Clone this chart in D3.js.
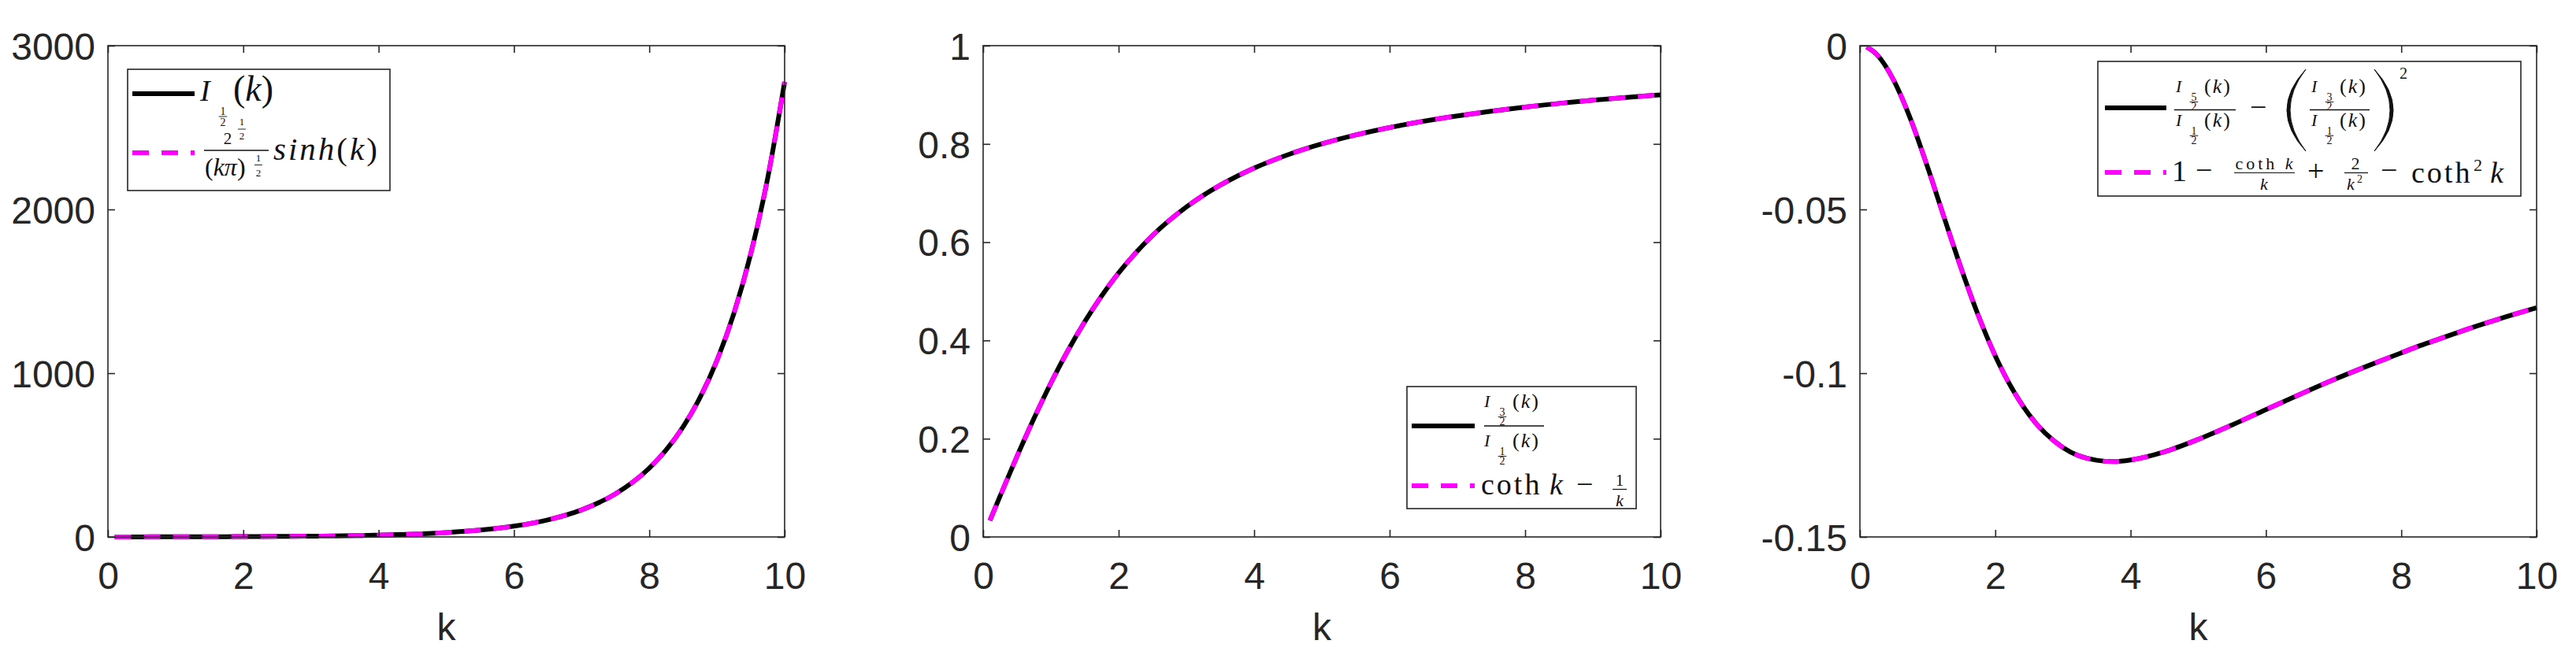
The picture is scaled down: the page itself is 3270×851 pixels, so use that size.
<!DOCTYPE html>
<html><head><meta charset="utf-8">
<script src="https://cdn.jsdelivr.net/npm/d3@7"></script>
<style>html,body{margin:0;padding:0;background:#fff;overflow:hidden}</style>
</head><body>
<svg id="chart" width="3270" height="851"></svg>
<script>
// ---- data ----
const kValues = [0.1,0.25,0.5,0.75,1,1.25,1.5,1.75,2,2.5,3,3.5,3.75,4,4.5,5,5.5,6,6.5,7,7.5,8,8.25,8.5,8.75,9,9.25,9.5,9.75,10];
const besselHalf = [0.253,0.403,0.588,0.758,0.938,1.143,1.387,1.683,2.046,3.053,4.615,7.055,8.755,10.887,16.927,26.478,41.624,65.705,104.08,165.36,263.38,420.46,531.6,672.5,851.1,1077.6,1364.8,1729.2,2191.7,2778.8];
const besselHalfClosed = [0.253,0.403,0.588,0.758,0.938,1.143,1.387,1.683,2.046,3.053,4.615,7.055,8.755,10.887,16.927,26.478,41.624,65.705,104.08,165.36,263.38,420.46,531.6,672.5,851.1,1077.6,1364.8,1729.2,2191.7,2778.8];
const ratioValues = [0.0333,0.0830,0.1640,0.2411,0.3130,0.3789,0.4381,0.4909,0.5373,0.6136,0.6716,0.7161,0.7344,0.7507,0.7780,0.8001,0.8182,0.8334,0.8462,0.8571,0.8667,0.8750,0.8788,0.8824,0.8857,0.8889,0.8919,0.8947,0.8974,0.9000];
const ratioClosed = [0.0333,0.0830,0.1640,0.2411,0.3130,0.3789,0.4381,0.4909,0.5373,0.6136,0.6716,0.7161,0.7344,0.7507,0.7780,0.8001,0.8182,0.8334,0.8462,0.8571,0.8667,0.8750,0.8788,0.8824,0.8857,0.8889,0.8919,0.8947,0.8974,0.9000];
const varValues = [-0.0004,-0.0027,-0.0106,-0.0225,-0.0371,-0.0528,-0.0682,-0.0824,-0.0947,-0.1127,-0.1227,-0.1266,-0.1270,-0.1265,-0.1240,-0.1202,-0.1158,-0.1111,-0.1065,-0.1020,-0.0978,-0.0938,-0.0918,-0.0900,-0.0882,-0.0864,-0.0847,-0.0831,-0.0815,-0.0800];
const varClosed = [-0.0004,-0.0027,-0.0106,-0.0225,-0.0371,-0.0528,-0.0682,-0.0824,-0.0947,-0.1127,-0.1227,-0.1266,-0.1270,-0.1265,-0.1240,-0.1202,-0.1158,-0.1111,-0.1065,-0.1020,-0.0978,-0.0938,-0.0918,-0.0900,-0.0882,-0.0864,-0.0847,-0.0831,-0.0815,-0.0800];
const xTicks = [0,2,4,6,8,10];
const yTicks1 = [0,1000,2000,3000];
const yTickLabels1 = ["0","1000","2000","3000"];
const yTicks2 = [0,0.2,0.4,0.6,0.8,1];
const yTickLabels2 = ["0","0.2","0.4","0.6","0.8","1"];
const yTicks3 = [-0.15,-0.1,-0.05,0];
const yTickLabels3 = ["-0.15","-0.1","-0.05","0"];
const xLabel = "k";

// ---- layout ----
const svg = d3.select("#chart");
svg.append("rect").attr("width",3270).attr("height",851).attr("fill","#fff");
const TOP = 58, BOTTOM = 682;
const AX = "#262626";
const SANS = "'Liberation Sans', Arial, Helvetica, sans-serif";
const SERIF = "'Liberation Serif', 'Times New Roman', serif";

const panels = [
  {left:137, right:996, domain:[0,3000], ticks:yTicks1, labels:yTickLabels1, a:besselHalf, b:besselHalfClosed},
  {left:1248, right:2108, domain:[0,1], ticks:yTicks2, labels:yTickLabels2, a:ratioValues, b:ratioClosed},
  {left:2361, right:3220, domain:[-0.15,0], ticks:yTicks3, labels:yTickLabels3, a:varValues, b:varClosed}
];

panels.forEach(p => {
  const x = d3.scaleLinear().domain([0,10]).range([p.left, p.right]);
  const y = d3.scaleLinear().domain(p.domain).range([BOTTOM, TOP]);
  const g = svg.append("g");
  const line = d3.line().x(d => x(d[0])).y(d => y(d[1])).curve(d3.curveMonotoneX);
  g.append("path").datum(kValues.map((k,i)=>[k,p.a[i]])).attr("d", line)
    .attr("fill","none").attr("stroke","#000").attr("stroke-width",6);
  g.append("path").datum(kValues.map((k,i)=>[k,p.b[i]])).attr("d", line)
    .attr("fill","none").attr("stroke","#ff00ff").attr("stroke-width",6).attr("stroke-dasharray","21,16");

  const style = sel => {
    sel.select(".domain").remove();
    sel.selectAll(".tick line").attr("stroke",AX).attr("stroke-width",1.6);
    sel.selectAll(".tick text").attr("fill",AX);
    sel.attr("font-family",SANS).attr("font-size",48);
  };
  g.append("g").attr("transform",`translate(0,${BOTTOM})`)
    .call(d3.axisBottom(x).tickValues(xTicks).tickSizeInner(-9).tickSizeOuter(0).tickPadding(31.5).tickFormat(d3.format("d")))
    .call(style);
  g.append("g").attr("transform",`translate(0,${TOP})`)
    .call(d3.axisTop(x).tickValues(xTicks).tickSizeInner(-9).tickSizeOuter(0).tickFormat(""))
    .call(style);
  const yl = g.append("g").attr("transform",`translate(${p.left},0)`)
    .call(d3.axisLeft(y).tickValues(p.ticks).tickSizeInner(-9).tickSizeOuter(0).tickPadding(16).tickFormat((d,i)=>p.labels[i]))
    .call(style);
  yl.selectAll(".tick text").attr("dy","0.36em");
  g.append("g").attr("transform",`translate(${p.right},0)`)
    .call(d3.axisRight(y).tickValues(p.ticks).tickSizeInner(-9).tickSizeOuter(0).tickFormat(""))
    .call(style);
  g.append("rect").attr("x",p.left).attr("y",TOP).attr("width",p.right-p.left).attr("height",BOTTOM-TOP)
    .attr("fill","none").attr("stroke",AX).attr("stroke-width",1.6);
  g.append("text").attr("x",(p.left+p.right)/2).attr("y",813).attr("text-anchor","middle")
    .attr("font-family",SANS).attr("font-size",48).attr("fill",AX).text(xLabel);
});

// ---- legend helpers ----
function tx(g, x, y, size, parts, opts={}) {
  const t = g.append("text").attr("x",x).attr("y",y).attr("font-family",SERIF).attr("font-size",size).attr("fill","#111");
  if (opts.anchor) t.attr("text-anchor",opts.anchor);
  if (opts.ls) t.attr("letter-spacing",opts.ls);
  (typeof parts === "string" ? [[parts,false]] : parts).forEach(([s,it]) => {
    const sp = t.append("tspan").text(s);
    if (it) sp.attr("font-style","italic");
  });
  return t;
}
function bar(g, x1, x2, y, w=1.3) {
  g.append("line").attr("x1",x1).attr("x2",x2).attr("y1",y).attr("y2",y).attr("stroke","#111").attr("stroke-width",w);
}
function subFrac(g, cx, y1, yb, y2, size, a, b) {
  tx(g, cx, y1, size, a, {anchor:"middle"});
  bar(g, cx-size*0.38, cx+size*0.38, yb, 0.9);
  tx(g, cx, y2, size, b, {anchor:"middle"});
}
function smallBessel(g, x, base, a, b) {
  tx(g, x, base, 22, [["I",true]]);
  subFrac(g, x+23, base+11, base+12.5, base+23, 14, a, b);
  tx(g, x+36, base+1, 26, [["(",false],["k",true],[")",false]], {ls:2});
}
function legendBox(g, x, y, w, h, x1, x2, y1, y2) {
  g.append("rect").attr("x",x).attr("y",y).attr("width",w).attr("height",h)
    .attr("fill","#fff").attr("stroke",AX).attr("stroke-width",1.6);
  g.append("line").attr("x1",x1).attr("x2",x2).attr("y1",y1).attr("y2",y1).attr("stroke","#000").attr("stroke-width",6);
  g.append("line").attr("x1",x1).attr("x2",x2).attr("y1",y2).attr("y2",y2).attr("stroke","#ff00ff").attr("stroke-width",6).attr("stroke-dasharray","21,16");
}

// Legend 1
const L1 = svg.append("g");
legendBox(L1, 162, 88, 333, 154, 168, 247, 119, 194);
tx(L1, 254, 128, 38, [["I",true]]);
subFrac(L1, 283, 146, 148, 160, 14, "1", "2");
tx(L1, 296, 128, 46, [["(",false],["k",true],[")",false]]);
tx(L1, 289, 183, 21, "2", {anchor:"middle"});
subFrac(L1, 307, 159, 164, 177, 13, "1", "2");
bar(L1, 259, 341, 191, 1.3);
tx(L1, 260, 223, 32, [["(",false],["kπ",true],[")",false]]);
subFrac(L1, 328, 205, 209.5, 224, 13, "1", "2");
tx(L1, 347, 203, 41, [["sinh",true],["(",false],["k",true],[")",false]], {ls:3});

// Legend 2
const L2 = svg.append("g");
legendBox(L2, 1786, 491, 291, 155, 1792, 1872, 541, 617);
smallBessel(L2, 1884, 517, "3", "2");
bar(L2, 1884, 1960, 541, 1.3);
smallBessel(L2, 1884, 567, "1", "2");
tx(L2, 1880, 628, 38, "coth", {ls:3});
tx(L2, 1967, 628, 38, [["k",true]]);
tx(L2, 2001, 628, 38, "\u2212");
tx(L2, 2056, 617, 22, "1", {anchor:"middle"});
bar(L2, 2047, 2065, 621.5, 1.2);
tx(L2, 2056, 643, 22, [["k",true]], {anchor:"middle"});

// Legend 3
const L3 = svg.append("g");
legendBox(L3, 2663, 78, 537, 171, 2672, 2750, 137, 219);
smallBessel(L3, 2762, 117, "5", "2");
bar(L3, 2760, 2838, 139.5, 1.3);
smallBessel(L3, 2762, 160, "1", "2");
tx(L3, 2856, 149, 38, "\u2212");
L3.append("path").attr("d","M2927,88 Q2879,140 2927,192 Q2887,140 2927,88 Z").attr("fill","#111").attr("stroke","#111").attr("stroke-width",1);
smallBessel(L3, 2934, 117, "3", "2");
bar(L3, 2932, 3008, 139.5, 1.3);
smallBessel(L3, 2934, 160, "1", "2");
L3.append("path").attr("d","M3014,88 Q3062,140 3014,192 Q3054,140 3014,88 Z").attr("fill","#111").attr("stroke","#111").attr("stroke-width",1);
tx(L3, 3046, 100, 20, "2");
tx(L3, 2757, 230, 38, "1");
tx(L3, 2787, 229, 38, "\u2212");
tx(L3, 2876, 215, 22, [["coth ",false],["k",true]], {anchor:"middle", ls:4});
bar(L3, 2836, 2913, 219.5, 1.2);
tx(L3, 2874, 241, 22, [["k",true]], {anchor:"middle"});
tx(L3, 2929, 230, 38, "+");
tx(L3, 2990, 215, 22, "2", {anchor:"middle"});
bar(L3, 2976, 3006, 219.5, 1.2);
tx(L3, 2979, 241, 22, [["k",true]]);
tx(L3, 2992, 232, 14, "2");
tx(L3, 3022, 229, 38, "\u2212");
tx(L3, 3061, 232, 38, "coth", {ls:3});
tx(L3, 3140, 217, 22, "2");
tx(L3, 3161, 232, 38, [["k",true]]);
</script>
</body></html>
